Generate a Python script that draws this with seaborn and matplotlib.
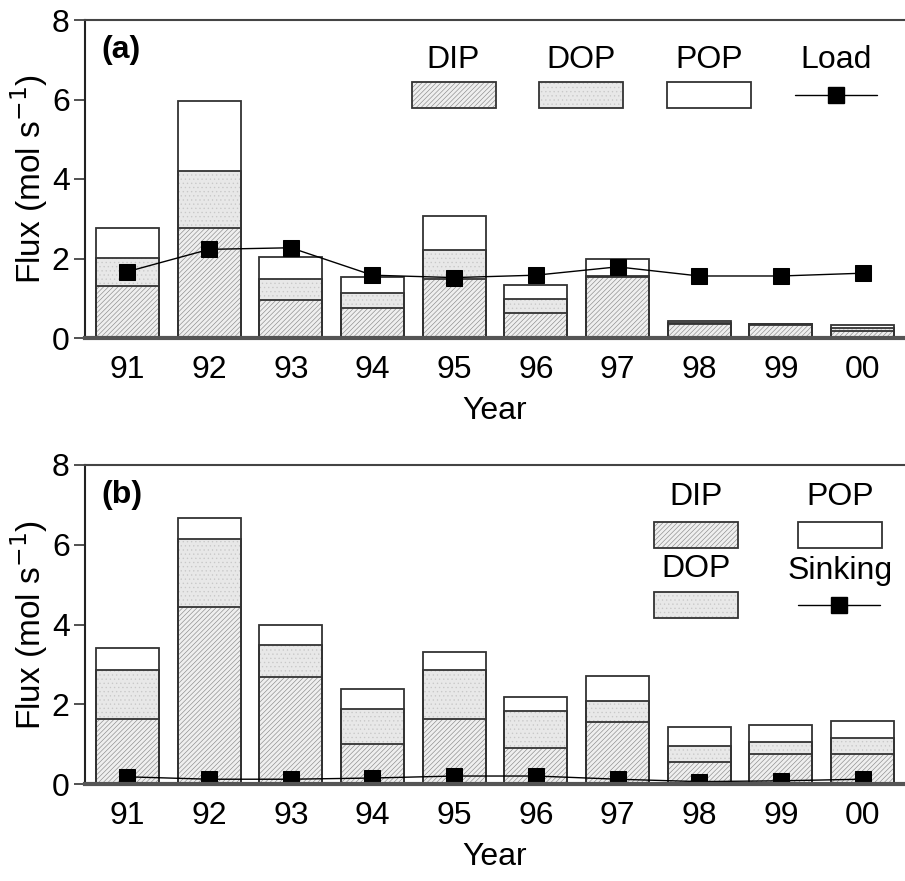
import matplotlib
matplotlib.use("Agg")
import matplotlib.pyplot as plt
import seaborn as sns
import numpy as np
import pandas as pd
from matplotlib.patches import Rectangle
from matplotlib.lines import Line2D

years = ["91", "92", "93", "94", "95", "96", "97", "98", "99", "00"]

# Panel (a): river load
a_dip = [1.32, 2.76, 0.96, 0.75, 1.48, 0.64, 1.53, 0.35, 0.33, 0.18]
a_dop = [0.70, 1.45, 0.52, 0.37, 0.73, 0.33, 0.02, 0.03, 0.02, 0.06]
a_pop = [0.75, 1.76, 0.57, 0.42, 0.86, 0.36, 0.45, 0.06, 0.01, 0.09]
a_load = [1.67, 2.23, 2.27, 1.58, 1.52, 1.58, 1.79, 1.56, 1.56, 1.63]

# Panel (b): exchange / sinking
b_dip = [1.63, 4.44, 2.68, 1.00, 1.63, 0.91, 1.55, 0.54, 0.75, 0.75]
b_dop = [1.22, 1.71, 0.81, 0.89, 1.22, 0.92, 0.52, 0.41, 0.31, 0.41]
b_pop = [0.56, 0.51, 0.49, 0.49, 0.45, 0.34, 0.63, 0.49, 0.42, 0.41]
b_sink = [0.18, 0.12, 0.12, 0.15, 0.20, 0.20, 0.12, 0.06, 0.08, 0.12]

sns.set_style("white")
plt.rcParams["font.family"] = ["Liberation Sans", "DejaVu Sans"]
plt.rcParams["hatch.linewidth"] = 0.45
plt.rcParams["text.color"] = "black"
plt.rcParams["axes.labelcolor"] = "black"
plt.rcParams["xtick.color"] = "black"
plt.rcParams["ytick.color"] = "black"

FS = 23
EDGE = "#333333"
DIP_FC, DIP_HC = "#efefef", "#8a8a8a"
DOP_FC, DOP_HC = "#e8e8e8", "#c8c8c8"

fig = plt.figure(figsize=(9.05, 8.81), dpi=100)
left = 85 / 905
ax_a = fig.add_axes([left, 1 - 338 / 881, 1 - left, (338 - 20) / 881])
ax_b = fig.add_axes([left, 1 - 784 / 881, 1 - left, (784 - 465) / 881])


def draw_panel(ax, dip, dop, pop, line, tag):
    dip = np.array(dip)
    dop = np.array(dop)
    pop = np.array(pop)
    df = pd.DataFrame({
        "year": years,
        "dip": dip,
        "dipdop": dip + dop,
        "total": dip + dop + pop,
    })
    w = 0.77
    sns.barplot(data=df, x="year", y="total", order=years, color="white",
                width=w, linewidth=0, saturation=1, ax=ax, zorder=1)
    sns.barplot(data=df, x="year", y="dipdop", order=years, color=DOP_FC,
                width=w, linewidth=0, saturation=1, ax=ax, zorder=1)
    sns.barplot(data=df, x="year", y="dip", order=years, color=DIP_FC,
                width=w, linewidth=0, saturation=1, ax=ax, zorder=1)
    n = len(years)
    for i, p in enumerate(ax.patches):
        layer = i // n
        if layer == 1:
            p.set_hatch("....")
            p.set_edgecolor(DOP_HC)
        elif layer == 2:
            p.set_hatch("///////")
            p.set_edgecolor(DIP_HC)
    for col in ["total", "dipdop", "dip"]:
        sns.barplot(data=df, x="year", y=col, order=years, color=EDGE,
                    fill=False, width=w, linewidth=1.3, saturation=1,
                    ax=ax, zorder=2)
    sns.lineplot(x=np.arange(n), y=line, ax=ax, color="black", lw=1.0,
                 marker="s", markersize=11.5, markeredgecolor="black",
                 sort=False, zorder=4)

    ax.set_xlim(-0.52, 9.52)
    ax.set_ylim(0, 8)
    ax.set_yticks([0, 2, 4, 6, 8])
    ax.set_xticks(np.arange(n))
    ax.set_xticklabels(years)
    ax.tick_params(axis="x", length=0, pad=12, labelsize=FS)
    ax.tick_params(axis="y", length=8, width=1.2, direction="out",
                   pad=3, labelsize=FS, left=True, color="#333333")
    ax.spines["right"].set_visible(False)
    ax.spines["left"].set_linewidth(1.5)
    ax.spines["left"].set_color("#222222")
    ax.spines["top"].set_linewidth(1.5)
    ax.spines["top"].set_color("#444444")
    ax.spines["bottom"].set_linewidth(3.0)
    ax.spines["bottom"].set_color("#555555")
    ax.spines["bottom"].set_zorder(5)
    ax.set_xlabel("Year", fontsize=FS, labelpad=8)
    ax.set_ylabel("Flux (mol s$^{-1}$)", fontsize=24, labelpad=1)
    ax.text(0.02, 0.905, tag, transform=ax.transAxes, fontsize=FS,
            fontweight="bold", ha="left", va="center")


draw_panel(ax_a, a_dip, a_dop, a_pop, a_load, "(a)")
draw_panel(ax_b, b_dip, b_dop, b_pop, b_sink, "(b)")

W, H = 905, 881


def fx(x):
    return x / W


def fy(y):
    return 1 - y / H


def leg_patch(x0, x1, y0, y1, kind):
    if kind == "dip":
        r = Rectangle((fx(x0), fy(y1)), fx(x1) - fx(x0), fy(y0) - fy(y1),
                      transform=fig.transFigure, facecolor=DIP_FC,
                      edgecolor=DIP_HC, hatch="///////", lw=0)
        fig.add_artist(r)
    elif kind == "dop":
        r = Rectangle((fx(x0), fy(y1)), fx(x1) - fx(x0), fy(y0) - fy(y1),
                      transform=fig.transFigure, facecolor=DOP_FC,
                      edgecolor=DOP_HC, hatch="....", lw=0)
        fig.add_artist(r)
    o = Rectangle((fx(x0), fy(y1)), fx(x1) - fx(x0), fy(y0) - fy(y1),
                  transform=fig.transFigure,
                  facecolor="white" if kind == "pop" else "none",
                  edgecolor=EDGE, lw=1.3)
    fig.add_artist(o)


def leg_line(x0, x1, y):
    fig.add_artist(Line2D([fx(x0), fx(x1)], [fy(y), fy(y)],
                          transform=fig.transFigure, color="black", lw=1.0))
    fig.add_artist(Line2D([fx((x0 + x1) / 2)], [fy(y)], transform=fig.transFigure,
                          marker="s", markersize=11, color="black", lw=0))


def leg_text(x, y, s):
    fig.text(fx(x), fy(y), s, fontsize=FS, ha="center", va="center")


leg_text(453, 60, "DIP")
leg_patch(412, 496, 82, 108, "dip")
leg_text(581, 60, "DOP")
leg_patch(539, 623, 82, 108, "dop")
leg_text(709, 60, "POP")
leg_patch(667, 751, 82, 108, "pop")
leg_text(836, 60, "Load")
leg_line(795, 877, 95)

leg_text(696, 497, "DIP")
leg_patch(654, 738, 522, 548, "dip")
leg_text(840, 497, "POP")
leg_patch(798, 882, 522, 548, "pop")
leg_text(696, 569, "DOP")
leg_patch(654, 738, 592, 618, "dop")
leg_text(840, 571, "Sinking")
leg_line(798, 880, 605)

fig.savefig("out.png", dpi=100)
